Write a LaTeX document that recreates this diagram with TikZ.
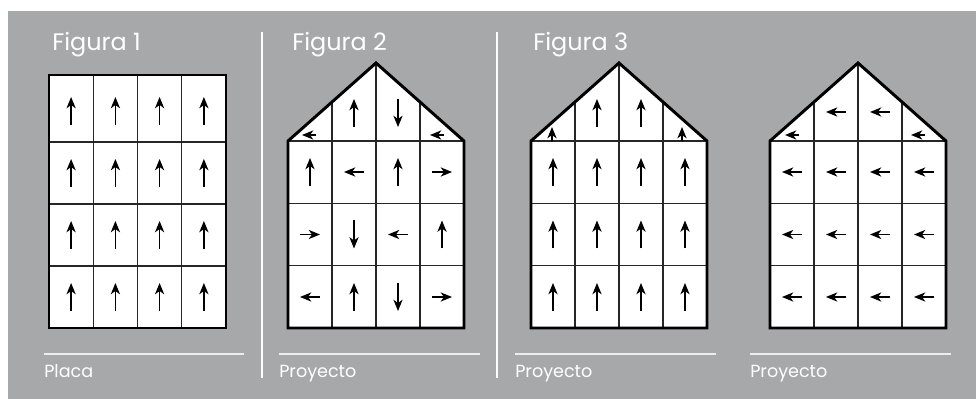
\documentclass[tikz,border=0pt]{standalone}
\usepackage{fontspec}
\setmainfont{Poppins}
\usetikzlibrary{arrows.meta}
\definecolor{panelgray}{HTML}{A7A8AA}
\definecolor{rulewhite}{HTML}{EDEDED}
\tikzstyle{title} = [anchor = base west, inner sep = 0pt, text = white, font = \fontsize{17}{20}\selectfont]
\tikzstyle{caption} = [anchor = base west, inner sep = 0pt, text = white, font = \fontsize{12.5}{15}\selectfont]
\tikzstyle{outline} = [draw = black, line width = 2.1pt, line join = miter]
\tikzstyle{cellline} = [draw = black!85, line width = 1pt]
\tikzstyle{separator} = [draw = white, line width = 2pt]
\tikzstyle{baseline} = [draw = rulewhite, line width = 1.6pt]
\tikzstyle{flowarrow} = [-{Stealth[length = 8pt, width = 6.5pt, inset = 2.3pt]}, line width = 1.1pt]

% one arrow in a cell: x, y, dx, dy (y grows downwards)
\newcommand{\flowArrow}[4]{%
  \draw [flowarrow] ({#1-#3*(10+4*abs(#4))}, {#2-#4*(10+4*abs(#4))}) -- ({#1+#3*(10+4*abs(#4))}, {#2+#4*(10+4*abs(#4))});}
% small arrow in a roof corner
\newcommand{\cornerArrow}[4]{%
  \draw [flowarrow] ({#1-#3*7}, {#2-#4*7}) -- ({#1+#3*7}, {#2+#4*7});}
% house outline with its grid, left edge at #1
\newcommand{\houseGrid}[1]{%
  \fill [white] (#1,328) -- (#1,141) -- (#1+88,63) -- (#1+176,141) -- (#1+176,328) -- cycle;
  \foreach \r in {141, 203.3, 265.7} {\draw [cellline] (#1,\r) -- (#1+176,\r);}
  \draw [cellline] (#1+44,328) -- (#1+44,102);
  \draw [cellline] (#1+88,328) -- (#1+88,63);
  \draw [cellline] (#1+132,328) -- (#1+132,102);
  \draw [outline] (#1,328) -- (#1,141) -- (#1+88,63) -- (#1+176,141) -- (#1+176,328) -- cycle;}

\begin{document}
\begin{tikzpicture}[x = 0.025cm, y = -0.025cm]
\useasboundingbox (0,0) rectangle (976,399);
\fill [white] (0,0) rectangle (976,399);
\fill [panelgray] (8,11) rectangle (976,399);

% titles
\node (figOne) [title] at (52,51) {Figura 1};
\node (figTwo) [title] at (292,51) {Figura 2};
\node (figThree) [title] at (533,51) {Figura 3};

\draw [separator] (262,32) -- (262,378);
\draw [separator] (497,32) -- (497,378);

% Figura 1: plate
\fill [white] (49,75) rectangle (226,328);
\foreach \r in {142, 204, 266} {\draw [cellline] (49,\r) -- (226,\r);}
\foreach \c in {93.25, 137.5, 181.75} {\draw [cellline] (\c,75) -- (\c,328);}
\draw [outline] (49,75) rectangle (226,328);
\foreach \c in {71.1, 115.4, 159.6, 203.9} {
  \foreach \r in {111, 173, 235, 297} {\flowArrow{\c}{\r}{0}{-1}}
}

% Figura 2: project, mixed directions
\houseGrid{288}
\cornerArrow{309}{135}{-1}{0}
\cornerArrow{437}{135}{-1}{0}
\flowArrow{354}{113}{0}{-1}
\flowArrow{398}{113}{0}{1}
\foreach \c/\r/\dx/\dy in {310/172/0/-1, 354/172/-1/0, 398/172/0/-1, 442/172/1/0,
                          310/234.5/1/0, 354/234.5/0/1, 398/234.5/-1/0, 442/234.5/0/-1,
                          310/297/-1/0, 354/297/0/-1, 398/297/0/1, 442/297/1/0}
  {\flowArrow{\c}{\r}{\dx}{\dy}}

% Figura 3: project, all up
\houseGrid{531}
\cornerArrow{552}{134}{0}{-1}
\cornerArrow{682}{134}{0}{-1}
\flowArrow{597}{113}{0}{-1}
\flowArrow{641}{113}{0}{-1}
\foreach \c in {553, 597, 641, 685} {
  \foreach \r in {172, 234.5, 297} {\flowArrow{\c}{\r}{0}{-1}}
}

% last one: project, all left
\houseGrid{770}
\cornerArrow{792}{135}{-1}{0}
\cornerArrow{918}{135}{-1}{0}
\flowArrow{836}{112}{-1}{0}
\flowArrow{880}{112}{-1}{0}
\foreach \c in {792, 836, 880, 924} {
  \foreach \r in {172, 234.5, 297} {\flowArrow{\c}{\r}{-1}{0}}
}

% captions
\draw [baseline] (44,354) -- (244,354);
\draw [baseline] (279,354) -- (480,354);
\draw [baseline] (515,354) -- (716,354);
\draw [baseline] (750,354) -- (951,354);
\node (capOne) [caption] at (44,378) {Placa};
\node (capTwo) [caption] at (279,378) {Proyecto};
\node (capThree) [caption] at (515,378) {Proyecto};
\node (capFour) [caption] at (750,378) {Proyecto};
\end{tikzpicture}
\end{document}
